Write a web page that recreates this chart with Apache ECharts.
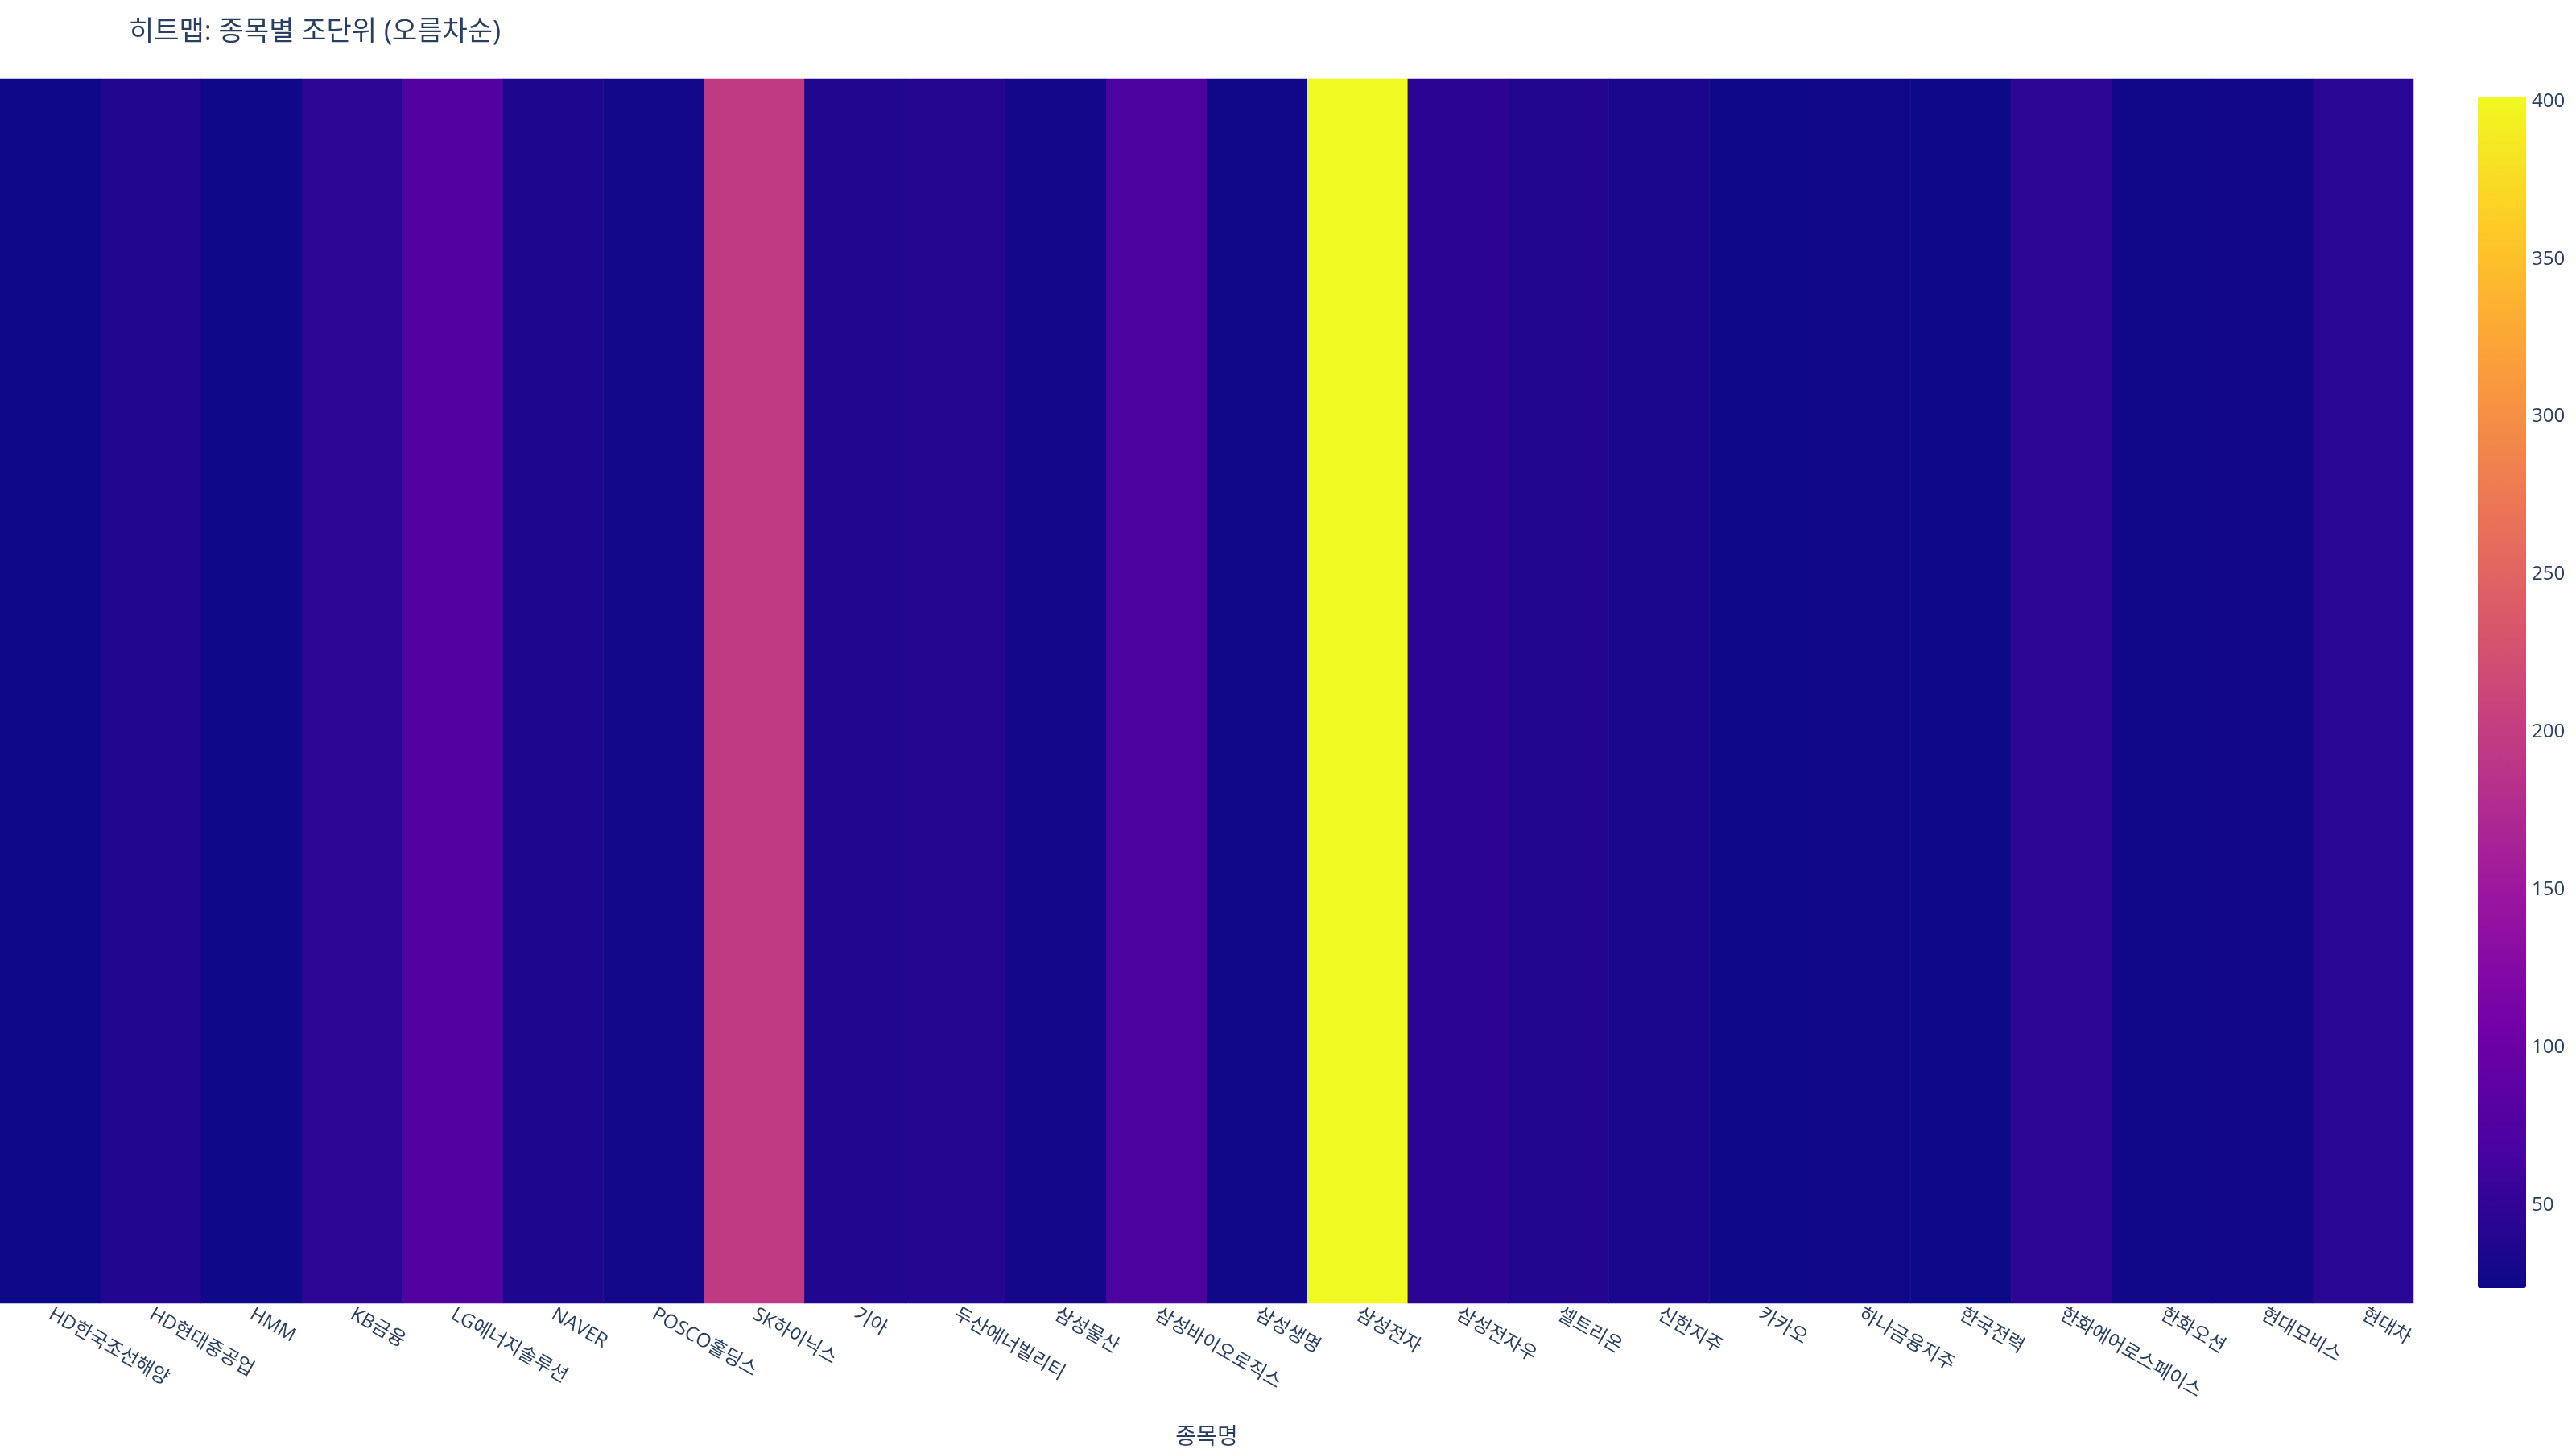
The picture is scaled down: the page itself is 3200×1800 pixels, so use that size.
<!DOCTYPE html>
<html>
<head>
<meta charset="utf-8">
<script src="https://cdn.jsdelivr.net/npm/echarts@6/dist/echarts.min.js"></script>
<style>
html,body{margin:0;padding:0;background:#fff;}
#chart{width:3200px;height:1800px;}
</style>
</head>
<body>
<div id="chart"></div>
<script>
const categories = ['HD한국조선해양','HD현대중공업','HMM','KB금융','LG에너지솔루션','NAVER','POSCO홀딩스','SK하이닉스','기아','두산에너빌리티','삼성물산','삼성바이오로직스','삼성생명','삼성전자','삼성전자우','셀트리온','신한지주','카카오','하나금융지주','한국전력','한화에어로스페이스','한화오션','현대모비스','현대차'];
const values = [24, 39.5, 25, 47, 78, 36.5, 27.8, 196, 38.7, 41.6, 29, 71.5, 27, 401.5, 45, 39.5, 33.6, 25, 27, 23.7, 47, 27, 28, 44];
const colorbarTicks = [50, 100, 150, 200, 250, 300, 350, 400];
const plasma = ['#0d0887','#46039f','#7201a8','#9c179e','#bd3786','#d8576b','#ed7953','#fb9f3a','#fdca26','#f0f921'];

const vMin = Math.min(...values);
const vMax = Math.max(...values);
const FONT = '"Open Sans", "Noto Sans CJK KR", sans-serif';
const TXT = '#2a3f5f';

const chart = echarts.init(document.getElementById('chart'), null, {renderer: 'canvas'});
chart.setOption({
  animation: false,
  backgroundColor: '#ffffff',
  title: {
    text: '히트맵: 종목별 조단위 (오름차순)',
    left: 160, top: 23, padding: 0,
    textStyle: {fontFamily: FONT, fontSize: 34, fontWeight: 'normal', color: TXT}
  },
  grid: [
    {left: 0, top: 98, width: 2998, height: 1521, containLabel: false, outerBoundsMode: 'none'},
    {left: 3078, top: 120, width: 60, height: 1480, containLabel: false, outerBoundsMode: 'none'}
  ],
  xAxis: [
    {
      type: 'category', gridIndex: 0, data: categories,
      axisLine: {show: false}, axisTick: {show: false}, splitLine: {show: false},
      axisLabel: {rotate: -30, fontSize: 24, color: TXT, fontFamily: FONT, margin: 12, interval: 0},
      name: '종목명', nameLocation: 'middle', nameGap: 153,
      nameTextStyle: {fontSize: 28, color: TXT, fontFamily: FONT}
    },
    {type: 'value', gridIndex: 1, show: false, min: 0, max: 1}
  ],
  yAxis: [
    {type: 'category', gridIndex: 0, data: [''], show: false},
    {
      type: 'value', gridIndex: 1, position: 'right', min: vMin, max: vMax,
      axisLine: {show: false}, axisTick: {show: false}, splitLine: {show: false},
      axisLabel: {customValues: colorbarTicks, fontSize: 24, color: TXT, fontFamily: FONT, margin: 7}
    }
  ],
  visualMap: {
    type: 'continuous', seriesIndex: 0, min: vMin, max: vMax,
    calculable: false, orient: 'vertical', left: 3078, top: 120, padding: 0,
    itemWidth: 60, itemHeight: 1480, text: null, showLabel: false,
    inRange: {color: plasma}
  },
  series: [{
    type: 'heatmap', xAxisIndex: 0, yAxisIndex: 0,
    data: values.map((v, i) => [i, 0, v]),
    itemStyle: {borderWidth: 0},
    emphasis: {disabled: true}
  }]
});
</script>
</body>
</html>
